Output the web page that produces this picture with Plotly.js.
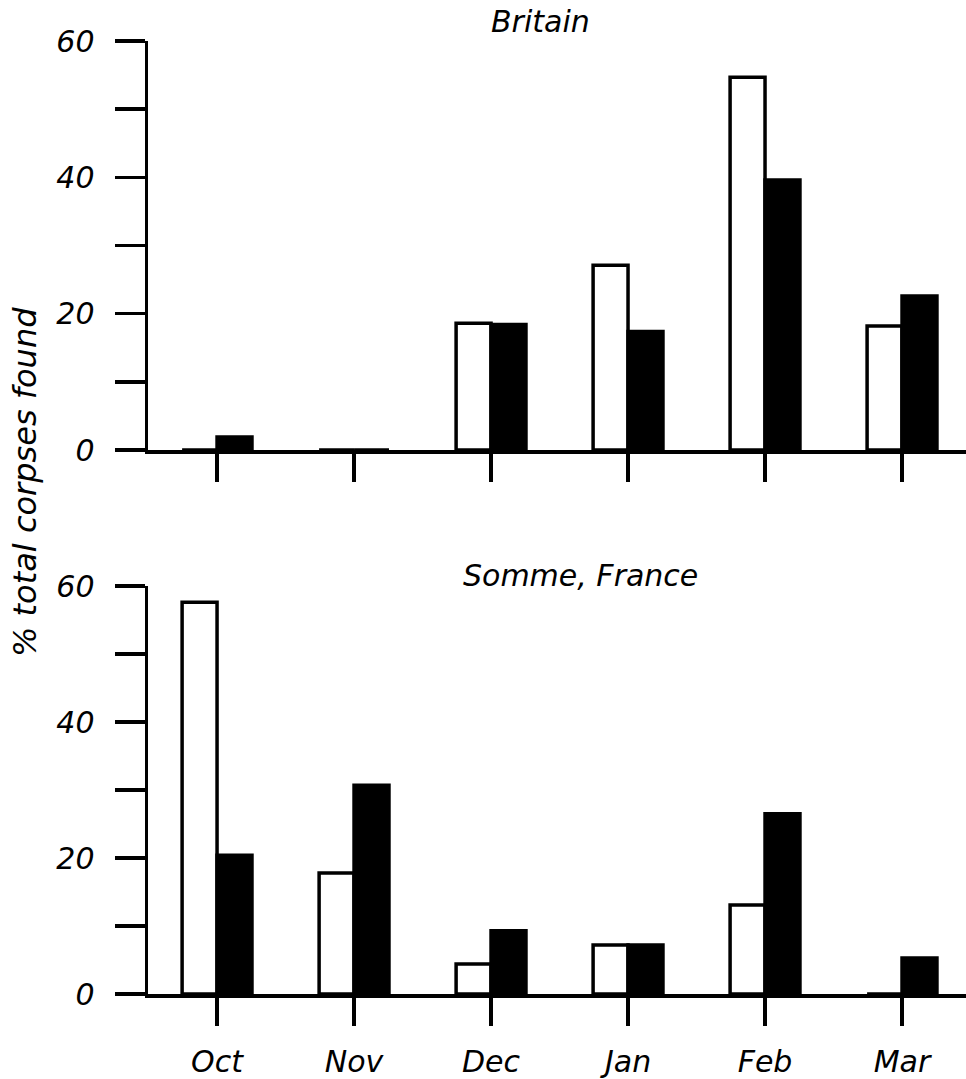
<!DOCTYPE html>
<html>
<head>
<meta charset="utf-8">
<script src="https://cdn.plot.ly/plotly-3.0.1.min.js"></script>
<style>html,body{margin:0;padding:0;background:#fff;}#chart{width:966px;height:1079px;}</style>
</head>
<body>
<div id="chart"></div>
<script>
const months = ["Oct", "Nov", "Dec", "Jan", "Feb", "Mar"];
const britainWhite = [0, 0, 18.6, 27.1, 54.7, 18.2];
const britainBlack = [1.9, 0, 18.4, 17.4, 39.6, 22.6];
const sommeWhite = [57.6, 17.8, 4.4, 7.2, 13.1, 0];
const sommeBlack = [20.4, 30.7, 9.3, 7.2, 26.5, 5.3];
const yTickVals = [0, 10, 20, 30, 40, 50, 60];
const yTickText = ["0", "", "20", "", "40", "", "60"];

const FONT = "DejaVu Sans, sans-serif";
const lineW = 3.5;

function barTrace(vals, fill, xa, ya) {
  return {
    type: "bar", x: months, y: vals, xaxis: xa, yaxis: ya,
    marker: {color: fill, line: {color: "#000", width: lineW}},
    showlegend: false, hoverinfo: "skip"
  };
}

const data = [
  barTrace(britainWhite, "#fff", "x", "y"),
  barTrace(britainBlack, "#000", "x", "y"),
  barTrace(sommeWhite, "#fff", "x2", "y2"),
  barTrace(sommeBlack, "#000", "x2", "y2")
];

const H = 1079, W = 966;
const tfont = {family: FONT, size: 30, color: "#000", style: "italic"};
function xAxis(showLabels, anchor) {
  return {
    domain: [148 / W, 1], range: [-0.504, 5.467], anchor: anchor,
    showline: true, linecolor: "#000", linewidth: lineW,
    ticks: "outside", ticklen: 28, tickwidth: lineW, tickcolor: "#000",
    showticklabels: showLabels, showgrid: false, zeroline: false,
    tickfont: tfont, ticklabelstandoff: 10, fixedrange: true
  };
}
function yAxis(top, bottom, anchor) {
  return {
    domain: [1 - bottom / H, 1 - top / H], range: [0, 60], anchor: anchor,
    showline: true, linecolor: "#000", linewidth: lineW,
    ticks: "outside", ticklen: 30, tickwidth: lineW, tickcolor: "#000",
    tickmode: "array", tickvals: yTickVals, ticktext: yTickText,
    showgrid: false, zeroline: false,
    tickfont: tfont, ticklabelstandoff: 14, fixedrange: true
  };
}

const layout = {
  width: W, height: H,
  margin: {l: 0, r: 0, t: 0, b: 0},
  paper_bgcolor: "#fff", plot_bgcolor: "#fff",
  barmode: "group", bargap: 0.49, bargroupgap: 0,
  xaxis: xAxis(false, "y"),
  yaxis: yAxis(41, 450, "x"),
  xaxis2: xAxis(true, "y2"),
  yaxis2: yAxis(586, 994, "x2"),
  annotations: [
    {text: "Britain", xref: "paper", yref: "paper", x: 540 / W, y: 1 - 22 / H,
     xanchor: "center", yanchor: "middle",
     showarrow: false, font: {family: FONT, size: 30, color: "#000", style: "italic"}},
    {text: "Somme, France", xref: "paper", yref: "paper", x: 580 / W, y: 1 - 575 / H,
     xanchor: "center", yanchor: "middle",
     showarrow: false, font: {family: FONT, size: 30, color: "#000", style: "italic"}},
    {text: "% total corpses found", xref: "paper", yref: "paper", x: 25 / W, y: 1 - 482 / H,
     xanchor: "center", yanchor: "middle",
     showarrow: false, textangle: -90, font: {family: FONT, size: 32, color: "#000", style: "italic"}}
  ]
};

Plotly.newPlot("chart", data, layout, {staticPlot: true, displayModeBar: false});
</script>
</body>
</html>
